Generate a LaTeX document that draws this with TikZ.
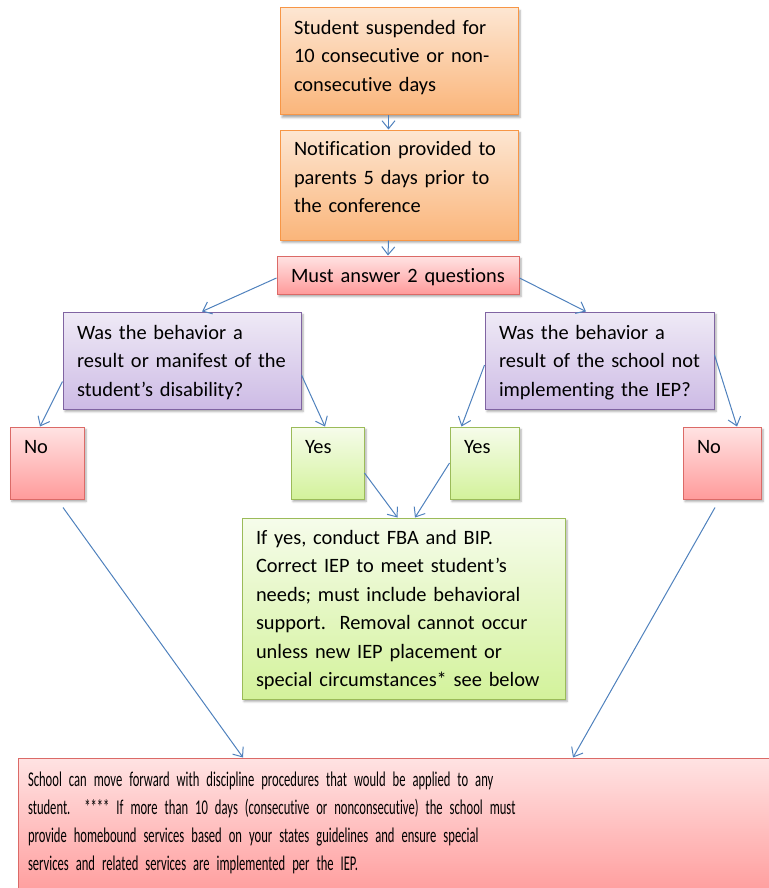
\documentclass[tikz,border=0pt]{standalone}
\usepackage{fontspec}
\setmainfont{Carlito}[Ligatures={NoCommon}]
\newfontfamily\narrowfont[FakeStretch=0.6, Ligatures={NoCommon}]{Carlito}
\usetikzlibrary{arrows.meta,shadows.blur}

\definecolor{orangetop}{HTML}{FDE6D2}
\definecolor{orangebot}{HTML}{FAB57A}
\definecolor{orangeline}{HTML}{F79646}
\definecolor{pinktop}{HTML}{FFE3E3}
\definecolor{pinkbot}{HTML}{FF9B9B}
\definecolor{pinkline}{HTML}{DB6A67}
\definecolor{purpletop}{HTML}{EFEAF6}
\definecolor{purplebot}{HTML}{CDBBE5}
\definecolor{purpleline}{HTML}{8064A2}
\definecolor{greentop}{HTML}{F6FCEB}
\definecolor{greenbot}{HTML}{D3F29B}
\definecolor{greenline}{HTML}{9BBB59}
\definecolor{arrowblue}{HTML}{4F81BD}

\newcommand\boxfont{\fontsize{20.4}{28.5}\selectfont\frenchspacing\spaceskip=4pt\hyphenpenalty=10000 }
\newcommand\footfont{\narrowfont\fontsize{21}{28}\selectfont\frenchspacing\spaceskip=3pt\hyphenpenalty=10000 }

\tikzset{
  box/.style={draw, line width=1pt, align=left, inner xsep=14pt, inner ysep=0pt,
    font=\boxfont,
    blur shadow={shadow xshift=2pt, shadow yshift=-2.5pt, shadow blur radius=2pt, shadow opacity=35}},
  orangebox/.style={box, draw=orangeline, top color=orangetop, bottom color=orangebot},
  pinkbox/.style={box, draw=pinkline, top color=pinktop, bottom color=pinkbot},
  purplebox/.style={box, draw=purpleline, top color=purpletop, bottom color=purplebot},
  greenbox/.style={box, draw=greenline, top color=greentop, bottom color=greenbot},
  arr/.style={draw=arrowblue, line width=1pt, -{Straight Barb[length=8pt,width=13pt]}}
}

\begin{document}
\begin{tikzpicture}[x=1pt, y=-1pt]
  \useasboundingbox (0,0) rectangle (768,888);

  % the first steps
  \node[orangebox, text width=210pt, text height=26.5pt, text depth=80.5pt] (susp) at (399,61.5)
    {Student suspended for\\ 10 consecutive or non-\\ consecutive days};
  \node[orangebox, text width=210pt, text height=25.5pt, text depth=84.5pt] (notif) at (399,185)
    {Notification provided to\\ parents 5 days prior to\\ the conference};
  \node[pinkbox, text width=214pt, text height=26pt, text depth=12pt] (quest) at (398,275)
    {Must answer 2 questions};

  % the two questions
  \node[purplebox, text width=210pt, text height=27pt, text depth=70pt] (manif) at (182,360.5)
    {Was the behavior a\\ result or manifest of the\\ student’s disability?};
  \node[purplebox, text width=201pt, text height=27pt, text depth=70pt] (implem) at (599.5,360.5)
    {Was the behavior a\\ result of the school not\\ implementing the IEP?};

  % the answers
  \node[pinkbox, text width=46pt, text height=26pt, text depth=46pt] (noleft) at (47,463) {No};
  \node[greenbox, text width=45pt, text height=26pt, text depth=46pt] (yesleft) at (327.5,463) {Yes};
  \node[greenbox, text width=41pt, text height=26pt, text depth=46pt] (yesright) at (484.5,463) {Yes};
  \node[pinkbox, text width=50pt, text height=26pt, text depth=46pt] (noright) at (722,463) {No};

  \node[greenbox, text width=295pt, text height=26pt, text depth=155pt] (fba) at (403.5,608.5)
    {If yes, conduct FBA and BIP.\\ Correct IEP to meet student’s\\ needs; must include behavioral\\ support.\ \ Removal cannot occur\\ unless new IEP placement or\\ special circumstances* see below};

  \node[pinkbox, font=\footfont, inner xsep=10pt, text width=742pt, text height=28.5pt, text depth=111.5pt] (disc) at (399,828)
    {School can move forward with discipline procedures that would be applied to any\\
     student.\ \ **** If more than 10 days (consecutive or nonconsecutive) the school must\\
     provide homebound services based on your states guidelines and ensure special\\
     services and related services are implemented per the IEP.};

  % connectors
  \draw[arr] ([xshift=-10.5pt]susp.south) -- ([xshift=-10.5pt]notif.north);
  \draw[arr] ([xshift=-10.5pt]notif.south) -- ([xshift=-10pt]quest.north);
  \draw[arr] ([yshift=-3pt]quest.west) -- ([xshift=20pt]manif.north);
  \draw[arr] ([yshift=-3pt]quest.east) -- ([xshift=-13.5pt]implem.north);
  \draw[arr] ([yshift=-21pt]manif.west) -- ([xshift=-7pt]noleft.north);
  \draw[arr] ([yshift=-14.5pt]manif.east) -- ([xshift=-2.5pt]yesleft.north);
  \draw[arr] ([yshift=-4.5pt]implem.west) -- ([xshift=-23pt]yesright.north);
  \draw[arr] ([yshift=5.5pt]implem.east) -- ([xshift=15pt]noright.north);
  \draw[arr] ([yshift=-10pt]yesleft.east) -- ([xshift=-6pt]fba.north);
  \draw[arr] (yesright.west) -- ([xshift=11.5pt]fba.north);
  \draw[arr] ([xshift=16pt,yshift=-8pt]noleft.south) -- ([xshift=-156pt]disc.north);
  \draw[arr] ([xshift=-7pt,yshift=-8pt]noright.south) -- ([xshift=174pt]disc.north);
\end{tikzpicture}
\end{document}
